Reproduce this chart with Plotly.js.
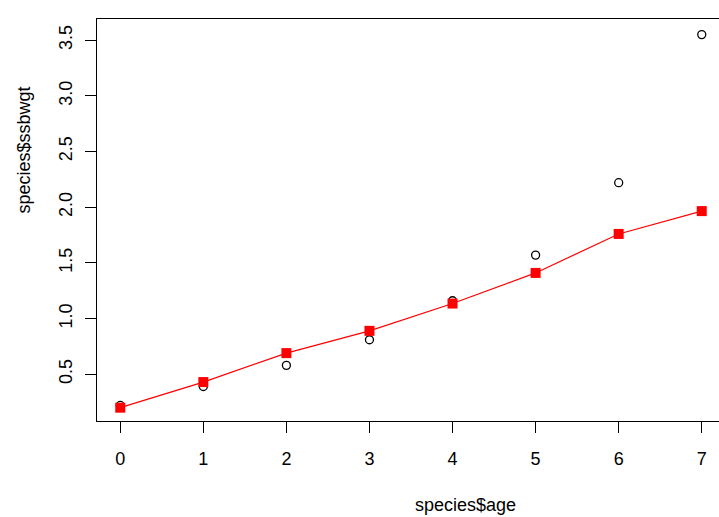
<!DOCTYPE html>
<html>
<head>
<meta charset="utf-8">
<script src="https://cdn.plot.ly/plotly-3.0.1.min.js"></script>
<style>
html, body { margin: 0; padding: 0; overflow: hidden; background: #fff; }
#chart { width: 740px; height: 517px; }
</style>
</head>
<body>
<div id="chart"></div>
<script>
// Data
const age = [0, 1, 2, 3, 4, 5, 6, 7];
const ssbwgtObserved = [0.22, 0.39, 0.58, 0.81, 1.16, 1.57, 2.22, 3.55];
const ssbwgtFitted = [0.20, 0.43, 0.69, 0.89, 1.135, 1.41, 1.76, 1.965];
const xTickVals = [0, 1, 2, 3, 4, 5, 6, 7];
const yTickVals = [0.5, 1.0, 1.5, 2.0, 2.5, 3.0, 3.5];
const yTickText = ["0.5", "1.0", "1.5", "2.0", "2.5", "3.0", "3.5"];

const font = { family: "Liberation Sans, Arial, sans-serif", size: 18, color: "#000" };

const traces = [
  {
    x: age, y: ssbwgtObserved, type: "scatter", mode: "markers",
    marker: { symbol: "circle-open", size: 8, color: "#000", line: { width: 1.3, color: "#000" } },
    showlegend: false, hoverinfo: "x+y"
  },
  {
    x: age, y: ssbwgtFitted, type: "scatter", mode: "lines+markers",
    line: { color: "#ff0000", width: 1.2 },
    marker: { symbol: "square", size: 10, color: "#ff0000" },
    showlegend: false, hoverinfo: "x+y"
  }
];

const layout = {
  width: 740, height: 517,
  margin: { l: 97, r: 15, t: 19, b: 96 },
  paper_bgcolor: "#fff", plot_bgcolor: "#fff",
  font: font,
  xaxis: {
    range: [-0.28, 7.28], tickvals: xTickVals, ticktext: xTickVals.map(String),
    ticks: "outside", ticklen: 11, tickwidth: 1, tickcolor: "#000",
    showline: true, linecolor: "#000", linewidth: 1, mirror: true,
    showgrid: false, zeroline: false, tickfont: font, ticklabelstandoff: 10
  },
  yaxis: {
    range: [0.0804, 3.69], tickvals: yTickVals, ticktext: yTickText,
    ticks: "outside", ticklen: 11, tickwidth: 1, tickcolor: "#000", tickangle: -90,
    showline: true, linecolor: "#000", linewidth: 1, mirror: false,
    showgrid: false, zeroline: false, tickfont: font, ticklabelstandoff: 6
  },
  annotations: [
    { text: "species$age", xref: "paper", yref: "paper",
      x: (465 - 97) / 628, y: (421 - 505) / 402, xanchor: "center", yanchor: "middle",
      showarrow: false, font: font },
    { text: "species$ssbwgt", xref: "paper", yref: "paper", textangle: -90,
      x: (23.5 - 97) / 628, y: (421 - 150) / 402, xanchor: "center", yanchor: "middle",
      showarrow: false, font: font }
  ]
};

Plotly.newPlot("chart", traces, layout, { displayModeBar: false, staticPlot: true });
</script>
</body>
</html>
